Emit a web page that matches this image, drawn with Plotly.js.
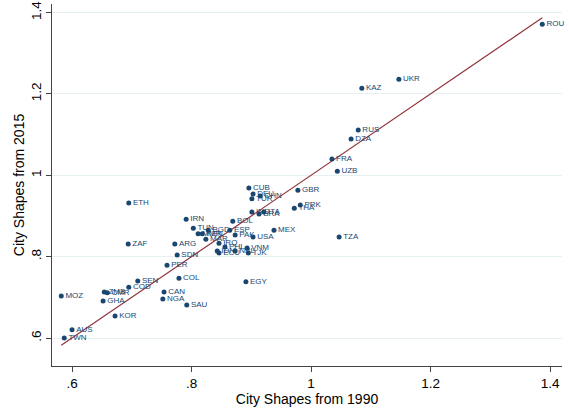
<!DOCTYPE html>
<html>
<head>
<meta charset="utf-8">
<script src="https://cdn.plot.ly/plotly-3.0.1.min.js"></script>
<style>html,body{margin:0;padding:0;background:#fff}#chart{width:569px;height:412px}</style>
</head>
<body>
<div id="chart"></div>
<script>
// Country codes
const countries = ["ROU","UKR","KAZ","RUS","DZA","FRA","UZB","GBR","PRK","THA",
  "CUB","DEU","CHN","TUR","IND","ITA","BRA","BOL","MEX","USA",
  "PAK","ESP","BGD","IRN","TUN","MMR","KEN","MAR","IRQ","PHL",
  "IDN","ECU","NPL","VNM","TJK","ETH","ZAF","ARG","SDN","PER",
  "COL","SEN","COD","CAN","NGA","SAU","ZMB","CMR","GHA","MOZ",
  "KOR","AUS","TWN","EGY","TZA"];
// City shapes from 1990
const shape1990 = [1.387,1.147,1.085,1.079,1.067,1.035,1.044,0.978,0.982,0.972,
  0.896,0.903,0.915,0.901,0.901,0.921,0.913,0.869,0.938,0.903,
  0.873,0.864,0.828,0.791,0.803,0.811,0.818,0.824,0.846,0.856,
  0.843,0.846,0.873,0.893,0.895,0.695,0.694,0.772,0.776,0.759,
  0.779,0.710,0.695,0.754,0.752,0.792,0.654,0.659,0.652,0.582,
  0.672,0.600,0.587,0.891,1.047];
// City shapes from 2015
const shape2015 = [1.371,1.236,1.214,1.111,1.089,1.040,1.010,0.963,0.927,0.919,
  0.969,0.954,0.949,0.942,0.910,0.910,0.905,0.887,0.865,0.848,
  0.853,0.865,0.865,0.892,0.870,0.856,0.856,0.843,0.833,0.824,
  0.814,0.809,0.814,0.821,0.809,0.932,0.831,0.831,0.804,0.779,
  0.747,0.740,0.725,0.713,0.696,0.681,0.713,0.711,0.691,0.703,
  0.654,0.620,0.600,0.738,0.848];
const tickVals = [0.6,0.8,1,1.2,1.4];
const tickText = [".6",".8","1","1.2","1.4"];

// 45-degree reference line over the range of the 1990 data
const xmin = Math.min(...shape1990), xmax = Math.max(...shape1990);
const lineX = [xmin, xmax];
const lineY = lineX.slice();

const navy = "#1a476f";
const traces = [
  {x: lineX, y: lineY, mode: "lines", type: "scatter",
   line: {color: "#90353b", width: 1.2}, hoverinfo: "none"},
  {x: shape1990, y: shape2015, text: countries, mode: "markers+text", type: "scatter",
   textposition: "middle right", cliponaxis: false,
   marker: {color: navy, size: 5},
   textfont: {family: "Liberation Sans, Arial, sans-serif", size: 8, color: navy},
   hoverinfo: "none"}
];
const layout = {
  width: 569, height: 412,
  margin: {l: 52, r: 7, t: 4, b: 46},
  paper_bgcolor: "#fff", plot_bgcolor: "#fff",
  showlegend: false,
  font: {family: "Liberation Sans, Arial, sans-serif", color: "#000"},
  xaxis: {range: [0.5665, 1.420], tickvals: tickVals, ticktext: tickText,
    showgrid: false, zeroline: false, showline: true, linecolor: "#444", linewidth: 1,
    ticks: "outside", ticklen: 5, tickcolor: "#444", tickfont: {size: 13.5},
    title: {text: "City Shapes from 1990", font: {size: 14}, standoff: 1}},
  yaxis: {range: [0.5312, 1.421], tickvals: tickVals, ticktext: tickText,
    tickangle: -90,
    showgrid: true, gridcolor: "#e6eff1", gridwidth: 1, zeroline: false,
    showline: true, linecolor: "#444", linewidth: 1,
    ticks: "outside", ticklen: 5, tickcolor: "#444", tickfont: {size: 13.5},
    title: {text: "City Shapes from 2015", font: {size: 14}, standoff: 0}}
};
Plotly.newPlot("chart", traces, layout, {displayModeBar: false, staticPlot: true});
</script>
</body>
</html>
